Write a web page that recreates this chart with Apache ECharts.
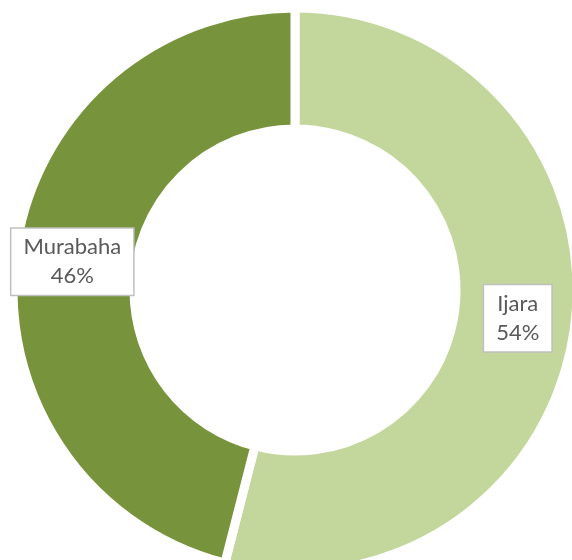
<!DOCTYPE html>
<html>
<head>
<meta charset="utf-8">
<script src="https://cdn.jsdelivr.net/npm/echarts@6/dist/echarts.min.js"></script>
<style>
  html, body { margin: 0; padding: 0; background: #fff; }
  #chart { width: 572px; height: 560px; }
</style>
</head>
<body>
<div id="chart"></div>
<script>
// data
const categories = ['Ijara', 'Murabaha']
const shares = [54, 46]
const colors = ['#C3D69B', '#77933C']

const chart = echarts.init(document.getElementById('chart'))

const option = {
  animation: false,
  color: colors,
  series: [{
    type: 'pie',
    center: [295, 290],
    radius: [161, 282],
    startAngle: 90,
    clockwise: true,
    silent: true,
    itemStyle: {
      borderColor: '#fff',
      borderWidth: 9
    },
    label: {
      show: true,
      position: 'inside',
      formatter: (p) => p.name + '\n' + Math.round(p.percent) + '%',
      color: '#595959',
      fontFamily: 'Lato',
      fontSize: 22,
      lineHeight: 29,
      align: 'center',
      backgroundColor: '#fff',
      borderColor: '#BFBFBF',
      borderWidth: 1.5,
      padding: [4, 12, 4, 12]
    },
    labelLine: { show: false },
    data: categories.map((name, i) => ({ name, value: shares[i] }))
  }]
}

chart.setOption(option)
</script>
</body>
</html>
